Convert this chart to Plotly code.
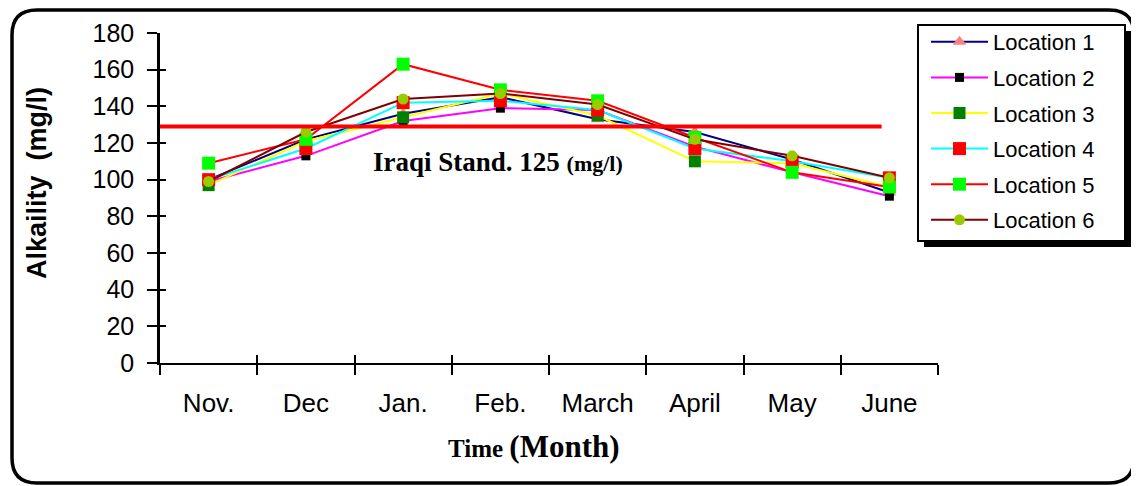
import plotly.graph_objects as go

# ---------------- data ----------------
months = ["Nov.", "Dec", "Jan.", "Feb.", "March", "April", "May", "June"]
loc1 = [100, 122, 136, 145, 133, 126, 111, 93]
loc2 = [99, 113, 132, 139, 138, 118, 104, 91]
loc3 = [97, 121, 134, 147, 135, 110, 109, 96]
loc4 = [100, 117, 142, 143, 138, 117, 110, 101]
loc5 = [109, 122, 163, 149, 143, 123, 104, 96]
loc6 = [99, 126, 144, 147, 141, 122, 113, 101]
series_names = ["Location 1", "Location 2", "Location 3", "Location 4", "Location 5", "Location 6"]
standard_drawn = 129     # position of the drawn standard line
standard_label = "Iraqi Stand. 125"
y_ticks = [0, 20, 40, 60, 80, 100, 120, 140, 160, 180]

series = [loc1, loc2, loc3, loc4, loc5, loc6]
styles = [
    dict(line="#000080", marker="#FF8080", symbol="triangle-up", size=12),
    dict(line="#FF00FF", marker="#000000", symbol="square", size=9),
    dict(line="#FFFF00", marker="#008000", symbol="square", size=12),
    dict(line="#00FFFF", marker="#FF0000", symbol="square", size=13),
    dict(line="#FF0000", marker="#00FF00", symbol="square", size=13),
    dict(line="#800000", marker="#99CC00", symbol="circle", size=11),
]

OFF = 8  # page body margin
W, H = 1139 - OFF, 486 - OFF
# plot area in page pixels
L, R, T, B = 160, 938, 33, 363


def px(x):
    return (x - L) / (R - L)


def py(y):
    return (B - y) / (B - T)


fig = go.Figure()
for name, vals, st in zip(series_names, series, styles):
    fig.add_trace(go.Scatter(
        x=months, y=vals, name=name, mode="lines+markers",
        line=dict(color=st["line"], width=2),
        marker=dict(color=st["marker"], symbol=st["symbol"], size=st["size"], line=dict(width=0)),
        legendgroup=name,
    ))

# overlay axes giving the inside half of the crossing ticks
fig.add_trace(go.Scatter(x=[None], y=[None], xaxis="x2", yaxis="y2", showlegend=False, hoverinfo="skip"))

shapes = []
# outer rounded frame
r = 25
x0, x1, y0, y1 = 12, 1134, 10, 483
path = (f"M {px(x0+r)},{py(y0)} L {px(x1-r)},{py(y0)} Q {px(x1)},{py(y0)} {px(x1)},{py(y0+r)} "
        f"L {px(x1)},{py(y1-r)} Q {px(x1)},{py(y1)} {px(x1-r)},{py(y1)} "
        f"L {px(x0+r)},{py(y1)} Q {px(x0)},{py(y1)} {px(x0)},{py(y1-r)} "
        f"L {px(x0)},{py(y0+r)} Q {px(x0)},{py(y0)} {px(x0+r)},{py(y0)} Z")
shapes.append(dict(type="path", path=path, xref="paper", yref="paper",
                   line=dict(color="black", width=3.5), layer="below"))
# standard line
shapes.append(dict(type="line", xref="x", yref="y", x0=-0.5, x1=6.92,
                   y0=standard_drawn, y1=standard_drawn,
                   line=dict(color="#FF0000", width=4), layer="above"))
# legend box shadow + box
shapes.append(dict(type="rect", xref="paper", yref="paper",
                   x0=px(924), x1=px(1131), y0=py(31), y1=py(247),
                   fillcolor="black", line=dict(width=0), layer="above"))
shapes.append(dict(type="rect", xref="paper", yref="paper",
                   x0=px(918), x1=px(1125), y0=py(25), y1=py(241),
                   fillcolor="white", line=dict(color="black", width=2), layer="above"))

annotations = [
    dict(text=f"<b>{standard_label} <span style='font-size:22px'>(mg/l)</span></b>",
         x=px(498), y=py(162), xref="paper", yref="paper", showarrow=False,
         xanchor="center", yanchor="middle",
         font=dict(family="Liberation Serif, Times New Roman, serif", size=27, color="black")),
    dict(text="<b>Alkaility  (mg/l)</b>", textangle=-90,
         x=px(37), y=py(183), xref="paper", yref="paper", showarrow=False,
         xanchor="center", yanchor="middle",
         font=dict(family="Liberation Sans, Arial, sans-serif", size=27, color="black")),
    dict(text="<b>Time <span style='font-size:31px'>(Month)</span></b>",
         x=px(534), y=py(446), xref="paper", yref="paper", showarrow=False,
         xanchor="center", yanchor="middle",
         font=dict(family="Liberation Serif, Times New Roman, serif", size=25, color="black")),
]

fig.update_layout(
    width=W, height=H,
    margin=dict(l=L - OFF, r=W - (R - OFF), t=T - OFF, b=H - (B - OFF), pad=0),
    paper_bgcolor="white", plot_bgcolor="white",
    showlegend=True,
    legend=dict(x=px(926), y=py(21), xanchor="left", yanchor="top",
                bgcolor="rgba(0,0,0,0)", borderwidth=0,
                font=dict(family="Liberation Sans, Arial, sans-serif", size=22, color="black"),
                itemwidth=57, tracegroupgap=4),
    xaxis=dict(type="category", range=[-0.5, 7.5], tickson="boundaries",
               ticks="outside", ticklen=10, tickwidth=2, tickcolor="black",
               showline=True, linecolor="black", linewidth=2, showgrid=False, zeroline=False,
               tickfont=dict(family="Liberation Sans, Arial, sans-serif", size=26, color="black"),
               ticklabelstandoff=16, fixedrange=True),
    yaxis=dict(range=[0, 180], tickvals=y_ticks, ticks="outside", ticklen=10, tickwidth=2,
               tickcolor="black", showline=True, linecolor="black", linewidth=2.5,
               showgrid=False, zeroline=False,
               tickfont=dict(family="Liberation Sans, Arial, sans-serif", size=25, color="black"),
               ticklabelstandoff=8, fixedrange=True),
    xaxis2=dict(overlaying="x", range=[-0.5, 7.5], tickvals=[i - 0.5 for i in range(len(months) + 1)],
                ticks="inside", ticklen=8, tickwidth=2, tickcolor="black", showticklabels=False,
                showline=False, showgrid=False, zeroline=False, fixedrange=True),
    yaxis2=dict(overlaying="y", range=[0, 180], tickvals=y_ticks, ticks="inside", ticklen=6,
                tickwidth=2, tickcolor="black", showticklabels=False, showline=False,
                showgrid=False, zeroline=False, fixedrange=True),
    shapes=shapes,
    annotations=annotations,
)

fig.write_html("out.html")
